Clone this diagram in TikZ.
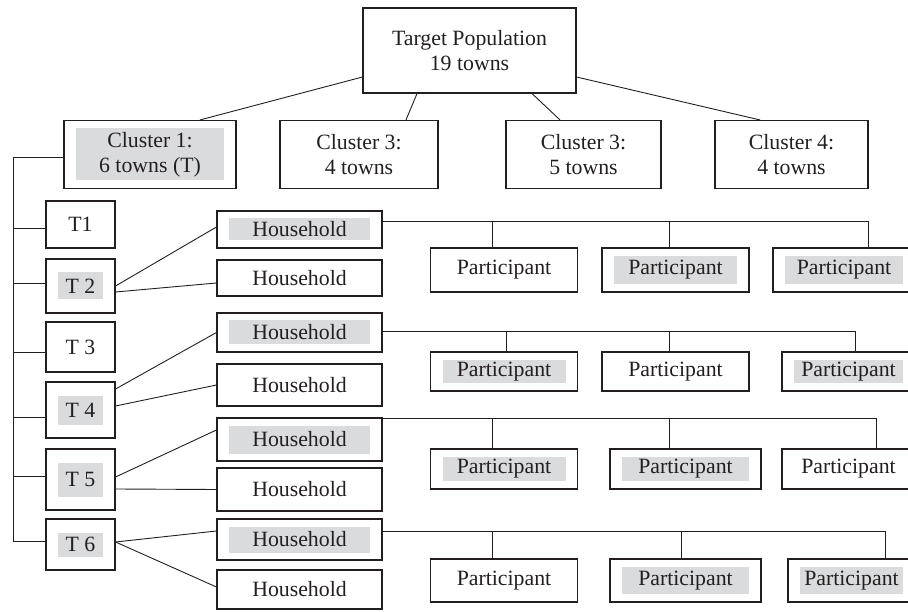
\documentclass[tikz,border=0pt]{standalone}
\usepackage{fontspec}
\setmainfont{Liberation Serif}
\usepackage{tikz}
\definecolor{ink}{RGB}{35,31,32}
\definecolor{hlgray}{RGB}{218,219,221}

\begin{document}
\begin{tikzpicture}[x=1pt, y=-1pt,
  box/.style={rectangle, draw=ink, line width=1.1pt, inner sep=0pt, align=center,
    font=\fontsize{21.8}{25}\selectfont, text=ink},
  cl/.style={box, minimum height=68pt},
  tb/.style={box, minimum width=69pt},
  hh/.style={box, minimum width=165pt},
  pp/.style={box, minimum width=147pt},
  hl/.style={path picture={\fill[hlgray]
    ([xshift=12pt, yshift=-#1]path picture bounding box.north west) rectangle
    ([xshift=-12pt, yshift=#1]path picture bounding box.south east);}},
  hl/.default=8pt,
  ln/.style={draw=ink, line width=0.9pt}]
\useasboundingbox (0,0) rectangle (908,612);
\clip (0,0) rectangle (908,612);
% top level
\node[box, minimum width=213pt, minimum height=85pt] (tp) at (469.5,50.5) {Target Population\\19 towns};
\node[cl, hl, minimum width=172pt] (c1) at (150,154.5) {Cluster 1:\\6 towns (T)};
\node[cl, minimum width=158pt] (c2) at (359,154.5) {Cluster 3:\\4 towns};
\node[cl, minimum width=155pt] (c3) at (583.5,154.5) {Cluster 3:\\5 towns};
\node[cl, minimum width=153pt] (c4) at (791.5,154.5) {Cluster 4:\\4 towns};
\draw[ln] ([yshift=-26.5pt]tp.west) -- ([xshift=50pt]c1.north);
\draw[ln] ([xshift=-52.5pt]tp.south) -- ([xshift=47pt]c2.north);
\draw[ln] ([xshift=62.5pt]tp.south) -- ([xshift=-23.5pt]c3.north);
\draw[ln] ([yshift=-26.5pt]tp.east) -- ([xshift=-31.5pt]c4.north);
% towns
\node[tb, minimum height=47pt] (t1) at (80.5,224.5) {T1};
\node[tb, hl=13.5pt, minimum height=54pt] (t2) at (80.5,286) {T 2};
\node[tb, minimum height=50pt] (t3) at (80.5,347) {T 3};
\node[tb, hl=13.5pt, minimum height=56pt] (t4) at (80.5,410) {T 4};
\node[tb, hl=13.5pt, minimum height=61pt] (t5) at (80.5,479.5) {T 5};
\node[tb, hl=13.5pt, minimum height=51pt] (t6) at (80.5,544.5) {T 6};
\coordinate (tr) at (13,541);
\draw[ln] ([yshift=-2.5pt]c1.west) -| (tr);
\foreach \t/\dy in {t1/-3.5, t2/3, t3/-5, t4/-7, t5/3.5, t6/3.5}
  \draw[ln] ([yshift=\dy pt]\t.west) -| (tr);
% households
\node[hh, hl=7.5pt, minimum height=37pt] (ha1) at (299.5,229.5) {Household};
\node[hh, minimum height=36pt] (hb1) at (299.5,278) {Household};
\node[hh, hl=7.5pt, minimum height=39pt] (ha2) at (299.5,332.5) {Household};
\node[hh, minimum height=42pt] (hb2) at (299.5,385) {Household};
\node[hh, hl=7.5pt, minimum height=43pt] (ha3) at (299.5,439.5) {Household};
\node[hh, minimum height=43pt] (hb3) at (299.5,489.5) {Household};
\node[hh, hl=7.5pt, minimum height=41pt] (ha4) at (299.5,539.5) {Household};
\node[hh, minimum height=39pt] (hb4) at (299.5,589.5) {Household};
\draw[ln] (t2.east) -- ([yshift=2.5pt]ha1.west);
\draw[ln] ([yshift=-6pt]t2.east) -- ([yshift=-5pt]hb1.west);
\draw[ln] ([yshift=21pt]t4.east) -- (ha2.west);
\draw[ln] ([yshift=4pt]t4.east) -- (hb2.west);
\draw[ln] ([yshift=2.5pt]t5.east) -- ([yshift=9.5pt]ha3.west);
\draw[ln] ([yshift=-9.5pt]t5.east) -- (hb3.west);
\draw[ln] ([yshift=2.5pt]t6.east) -- ([yshift=8.5pt]ha4.west);
\draw[ln] ([yshift=2.5pt]t6.east) -- ([yshift=2.5pt]hb4.west);
% participants
\node[pp, minimum height=44pt] (pa1) at (504,270) {Participant};
\node[pp, hl, minimum height=44pt] (pb1) at (675.5,270) {Participant};
\node[pp, hl, minimum height=44pt, minimum width=142pt] (pc1) at (844,270) {Participant};
\node[pp, hl, minimum height=39pt] (pa2) at (504,371.5) {Participant};
\node[pp, minimum height=39pt] (pb2) at (675.5,371.5) {Participant};
\node[pp, hl, minimum height=39pt, minimum width=133pt] (pc2) at (848.5,371.5) {Participant};
\node[pp, hl, minimum height=40pt] (pa3) at (504,469) {Participant};
\node[pp, hl, minimum height=40pt, minimum width=151pt] (pb3) at (685.5,469) {Participant};
\node[pp, minimum height=40pt, minimum width=133pt] (pc3) at (848.5,469) {Participant};
\node[pp, minimum height=43pt] (pa4) at (504,580.5) {Participant};
\node[pp, hl, minimum height=43pt, minimum width=151pt] (pb4) at (685.5,580.5) {Participant};
\node[pp, hl, minimum height=43pt, minimum width=127pt] (pc4) at (851.5,580.5) {Participant};
\foreach \r/\dy/\xa/\xb/\xc in {1/8.5/-12/-6.5/24, 2/1.5/2/-6.5/6.5,
    3/21.5/-12/-16.5/27.5, 4/8.5/-12/-4.5/33.5} {
  \coordinate (b\r) at ([yshift=\dy pt]ha\r.east);
  \draw[ln] (b\r) -| ([xshift=\xc pt]pc\r.north);
  \draw[ln] ([xshift=\xa pt]pa\r.north) |- (b\r);
  \draw[ln] ([xshift=\xb pt]pb\r.north) |- (b\r);
}
\end{tikzpicture}
\end{document}
